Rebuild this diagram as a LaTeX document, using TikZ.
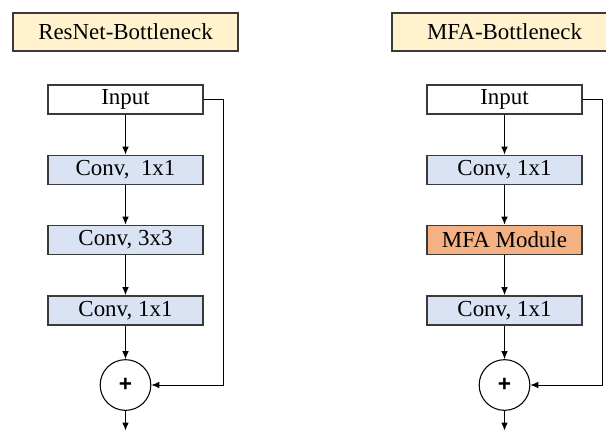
\documentclass[tikz,border=0pt]{standalone}
\usepackage{fontspec}
\setmainfont{Liberation Serif}
\newfontfamily\plusfont{Liberation Sans}
\usetikzlibrary{arrows.meta}

\definecolor{titlefill}{HTML}{FFF2CC}
\definecolor{convfill}{HTML}{DAE3F3}
\definecolor{mfafill}{HTML}{F4B183}
\definecolor{edgegray}{HTML}{3A3A3A}

\begin{document}
\begin{tikzpicture}[x=0.75pt, y=-0.75pt,
        every node/.style={font=\fontsize{17.2}{20}\selectfont},
        titlebox/.style={draw=edgegray, line width=1.1pt, fill=titlefill, minimum width=168.75pt, minimum height=28.5pt, inner sep=0pt},
        blockbox/.style={draw=edgegray, line width=1.1pt, minimum width=116.25pt, minimum height=22pt, inner sep=0pt},
        convbox/.style={blockbox, fill=convfill},
        mfabox/.style={blockbox, fill=mfafill},
        sumnode/.style={draw=black, line width=0.8pt, circle, minimum size=38pt, inner sep=0pt, font=\plusfont\bfseries\fontsize{17}{17}\selectfont},
        flow/.style={draw=black, line width=0.75pt, -{Latex[length=6pt, width=5pt]}}
    ]
        \useasboundingbox (0,0) rectangle (606,430);

        % titles
        \node [titlebox] (restitle) at (125.5,32) {ResNet-Bottleneck};
        \node [titlebox] (mfatitle) at (504.5,32) {MFA-Bottleneck};

        % ResNet bottleneck
        \node [blockbox] (rin) at (125.5,99.5) {Input};
        \node [convbox] (rc1) at (125.5,170) {Conv,\ \ 1x1};
        \node [convbox] (rc2) at (125.5,240) {Conv, 3x3};
        \node [convbox] (rc3) at (125.5,310.5) {Conv, 1x1};
        \node [sumnode] (rsum) at (125.5,385) {+};
        \coordinate (rout) at (125.5,430.5);

        \draw [flow] (rin) -- (rc1);
        \draw [flow] (rc1) -- (rc2);
        \draw [flow] (rc2) -- (rc3);
        \draw [flow] (rc3) -- (rsum);
        \draw [flow] (rsum) -- (rout);
        \draw [flow] (rin.east) -| (223,385) -- (rsum.east);

        % MFA bottleneck
        \node [blockbox] (min) at (504.5,99.5) {Input};
        \node [convbox] (mc1) at (504.5,170) {Conv, 1x1};
        \node [mfabox] (mmod) at (504.5,240) {MFA Module};
        \node [convbox] (mc2) at (504.5,310.5) {Conv, 1x1};
        \node [sumnode] (msum) at (504.5,385) {+};
        \coordinate (mout) at (504.5,430.5);

        \draw [flow] (min) -- (mc1);
        \draw [flow] (mc1) -- (mmod);
        \draw [flow] (mmod) -- (mc2);
        \draw [flow] (mc2) -- (msum);
        \draw [flow] (msum) -- (mout);
        \draw [flow] (min.east) -| (602.5,385) -- (msum.east);
\end{tikzpicture}
\end{document}
